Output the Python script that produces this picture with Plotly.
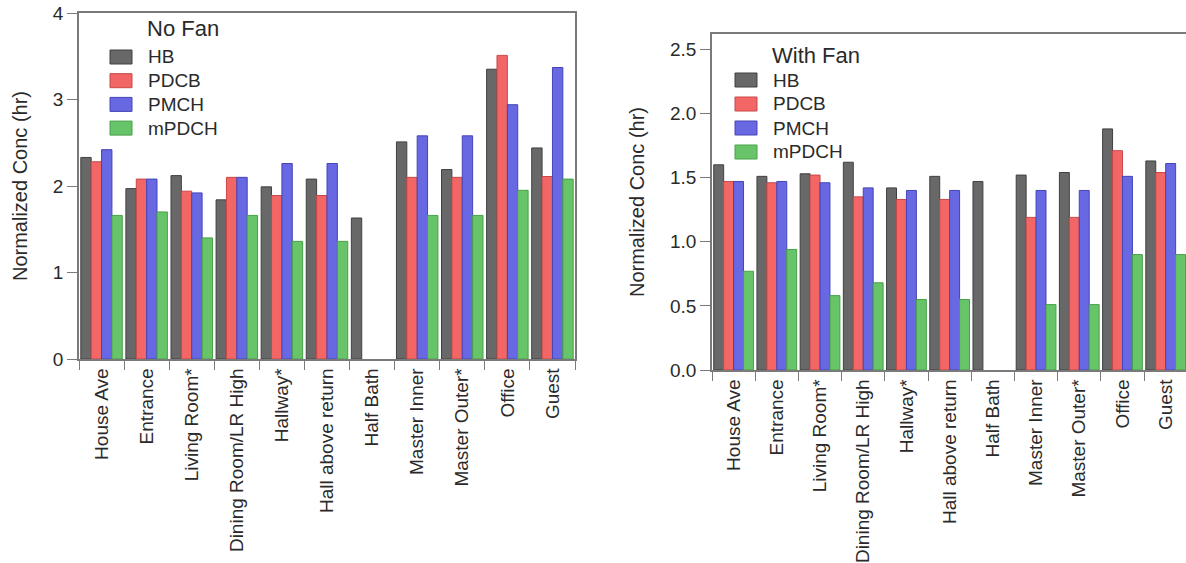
import plotly.graph_objects as go

# Sampling locations (x categories)
rooms = ["House Ave", "Entrance", "Living Room*", "Dining Room/LR High", "Hallway*",
         "Hall above return", "Half Bath", "Master Inner", "Master Outer*", "Office", "Guest"]

# Normalized concentration (hr), fan off
nofan_hb = [2.33, 1.97, 2.12, 1.84, 1.99, 2.08, 1.63, 2.51, 2.19, 3.35, 2.44]
nofan_pdcb = [2.28, 2.08, 1.94, 2.10, 1.89, 1.89, None, 2.10, 2.10, 3.51, 2.11]
nofan_pmch = [2.42, 2.08, 1.92, 2.10, 2.26, 2.26, None, 2.58, 2.58, 2.94, 3.37]
nofan_mpdch = [1.66, 1.70, 1.40, 1.66, 1.36, 1.36, None, 1.66, 1.66, 1.95, 2.08]

# Normalized concentration (hr), fan on
fan_hb = [1.60, 1.51, 1.53, 1.62, 1.42, 1.51, 1.47, 1.52, 1.54, 1.88, 1.63]
fan_pdcb = [1.47, 1.46, 1.52, 1.35, 1.33, 1.33, None, 1.19, 1.19, 1.71, 1.54]
fan_pmch = [1.47, 1.47, 1.46, 1.42, 1.40, 1.40, None, 1.40, 1.40, 1.51, 1.61]
fan_mpdch = [0.77, 0.94, 0.58, 0.68, 0.55, 0.55, None, 0.51, 0.51, 0.90, 0.90]

tracers = ["HB", "PDCB", "PMCH", "mPDCH"]
fills = ["#686868", "#f26666", "#6868e2", "#68c468"]
edges = ["#404040", "#c84848", "#4444b8", "#48a048"]

W, H = 1186, 563
FONT = "Liberation Sans, Arial, Helvetica, sans-serif"
TXT = "#2a2a2a"
AX = "#7a7a7a"

fig = go.Figure()

for name, ys, fc, ec in zip(tracers, [nofan_hb, nofan_pdcb, nofan_pmch, nofan_mpdch], fills, edges):
    fig.add_trace(go.Bar(x=rooms, y=ys, name=name, xaxis="x", yaxis="y", showlegend=False,
                         marker=dict(color=fc, line=dict(color=ec, width=1))))

for name, ys, fc, ec in zip(tracers, [fan_hb, fan_pdcb, fan_pmch, fan_mpdch], fills, edges):
    fig.add_trace(go.Bar(x=rooms, y=ys, name=name, xaxis="x2", yaxis="y2", showlegend=False,
                         marker=dict(color=fc, line=dict(color=ec, width=1))))


def px_x(p):
    return p / W


def px_y(p):
    return 1 - p / H


xcommon = dict(type="category", tickson="boundaries", ticks="outside", ticklen=9,
               tickcolor=AX, tickwidth=1, showline=True, linecolor=AX, linewidth=1.5,
               mirror=True, tickangle=-90, showgrid=False, zeroline=False, automargin=False,
               tickfont=dict(family=FONT, size=19, color=TXT), categoryorder="array",
               categoryarray=rooms)
ycommon = dict(ticks="outside", ticklen=10, tickcolor=AX, tickwidth=1, showline=True,
               linecolor=AX, linewidth=1.5, showgrid=False, zeroline=False, automargin=False,
               tickfont=dict(family=FONT, size=19, color=TXT),
               title=dict(text="Normalized Conc (hr)", font=dict(family=FONT, size=20, color=TXT),
                          standoff=20))

# Boxed legends: title, swatch and label per tracer, laid out in pixel units
shapes = []
annotations = []


def add_legend(title, title_x, title_y, sw_x, row0_y, text_x, step=24):
    annotations.append(dict(text=title, x=px_x(title_x), y=px_y(title_y), xref="paper",
                            yref="paper", xanchor="left", yanchor="middle", showarrow=False,
                            font=dict(family=FONT, size=22, color=TXT)))
    for i, (name, fc, ec) in enumerate(zip(tracers, fills, edges)):
        cy = row0_y + step * i
        shapes.append(dict(type="rect", xref="paper", yref="paper",
                           x0=px_x(sw_x), x1=px_x(sw_x + 22),
                           y0=px_y(cy + 7), y1=px_y(cy - 7),
                           fillcolor=fc, line=dict(color=ec, width=1)))
        annotations.append(dict(text=name, x=px_x(text_x), y=px_y(cy), xref="paper",
                                yref="paper", xanchor="left", yanchor="middle",
                                showarrow=False, font=dict(family=FONT, size=19, color=TXT)))


add_legend("No Fan", 145, 29, 110, 57, 146, step=23.7)
add_legend("With Fan", 770, 55, 735, 80, 771, step=24)

fig.update_layout(
    width=W, height=H, margin=dict(l=0, r=0, t=0, b=0),
    paper_bgcolor="white", plot_bgcolor="white",
    barmode="group", bargap=0.08, bargroupgap=0,
    showlegend=False,
    xaxis=dict(xcommon, domain=[px_x(79), px_x(575)], anchor="y", range=[-0.5, 10.5]),
    yaxis=dict(ycommon, domain=[px_y(359), px_y(13)], anchor="x", range=[0, 4],
               dtick=1, mirror=True),
    xaxis2=dict(xcommon, domain=[px_x(712), 1.0], anchor="y2", range=[-0.5, 10.47]),
    yaxis2=dict(ycommon, domain=[px_y(370), px_y(34)], anchor="x2", range=[0, 2.62],
                dtick=0.5, tickformat=".1f", mirror=False),
    shapes=shapes,
    annotations=annotations,
)

fig.write_html("out.html")
